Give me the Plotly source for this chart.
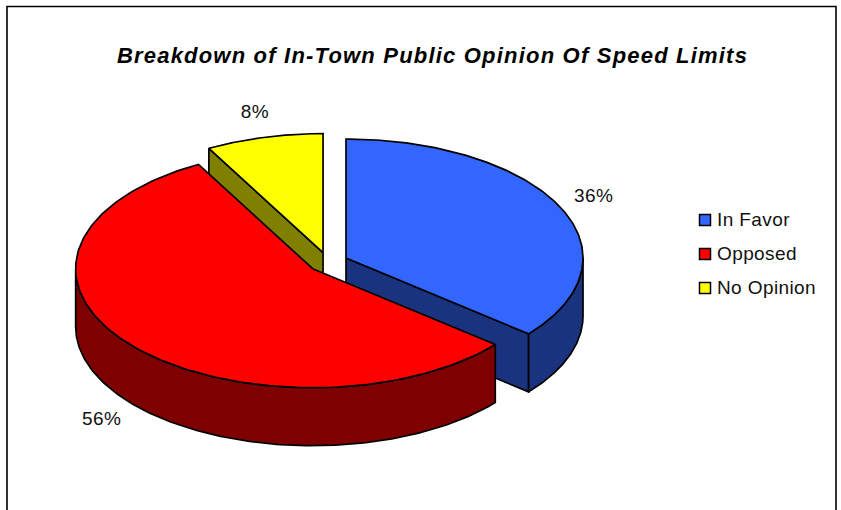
import numpy as np
import plotly.graph_objects as go

categories = ["In Favor", "Opposed", "No Opinion"]
values = [36, 56, 8]
label_text = ["36%", "56%", "8%"]
title_text = "Breakdown of In-Town Public Opinion Of Speed Limits"

top_colors = ["#3366FF", "#FF0000", "#FFFF00"]
side_colors = ["#1A337F", "#7F0000", "#808000"]

# projection of the tilted pie onto the pixel-sized axes
CX, CY, RX, RY, DEPTH, EXPLODE = 328.0, 262.3, 237.0, 119.0, 58.0, 0.084
LINE = 1.7

total = sum(values)
edges = np.cumsum([0] + values) / total * 2 * np.pi
slices = []
for i in range(len(values)):
    a0, a1 = edges[i], edges[i + 1]
    mid = (a0 + a1) / 2
    vx = CX + EXPLODE * RX * np.sin(mid)
    vy = CY - EXPLODE * RY * np.cos(mid)
    slices.append(dict(a0=a0, a1=a1, mid=mid, vx=vx, vy=vy))


def rim(s, a0, a1, drop=0.0):
    t = np.linspace(a0, a1, 160)
    return s["vx"] + RX * np.sin(t), s["vy"] - RY * np.cos(t) + drop


fig = go.Figure()


def poly(x, y, color):
    fig.add_trace(go.Scatter(
        x=list(x), y=list(y), mode="lines", fill="toself", fillcolor=color,
        line=dict(color="black", width=LINE), hoverinfo="skip", showlegend=False))


def top(i):
    s = slices[i]
    x, y = rim(s, s["a0"], s["a1"])
    poly(np.r_[s["vx"], x, s["vx"]], np.r_[s["vy"], y, s["vy"]], top_colors[i])


def cut(i, a):
    s = slices[i]
    ex, ey = rim(s, a, a)
    ex, ey = ex[0], ey[0]
    poly([s["vx"], ex, ex, s["vx"], s["vx"]],
         [s["vy"], ey, ey + DEPTH, s["vy"] + DEPTH, s["vy"]], side_colors[i])


def wall(i, a0, a1):
    s = slices[i]
    x, y = rim(s, a0, a1)
    xb, yb = rim(s, a1, a0, DEPTH)
    poly(np.r_[x, xb, x[0]], np.r_[y, yb, y[0]], side_colors[i])


# painter's order: back to front
cut(2, slices[2]["a0"])
top(2)
cut(0, slices[0]["a1"])
wall(0, np.pi / 2, slices[0]["a1"])
top(0)
wall(1, slices[1]["a0"], 1.5 * np.pi)
top(1)

# percentage labels, placed outward from each slice
lx, ly = [], []
for s in slices:
    lx.append(s["vx"] + 1.155 * RX * np.sin(s["mid"]))
    front = np.cos(s["mid"]) < 0
    ly.append(s["vy"] - 1.22 * RY * np.cos(s["mid"]) + (DEPTH if front else 0) + 1)
fig.add_trace(go.Scatter(
    x=lx, y=ly, mode="text", text=label_text, textposition="middle center",
    textfont=dict(family="Liberation Sans", size=19, color="#111111"),
    hoverinfo="skip", showlegend=False))

# legend
rows = [220 + 34 * i for i in range(3)]
fig.add_trace(go.Scatter(
    x=[705] * 3, y=rows, mode="markers",
    marker=dict(symbol="square", size=11, color=top_colors, line=dict(color="black", width=1.5)),
    hoverinfo="skip", showlegend=False))
fig.add_trace(go.Scatter(
    x=[717] * 3, y=[r + 1 for r in rows], mode="text",
    text=categories, textposition="middle right",
    textfont=dict(family="Liberation Sans", size=19, color="#111111"),
    hoverinfo="skip", showlegend=False))

fig.update_layout(
    width=841, height=510, margin=dict(l=0, r=0, t=0, b=0),
    paper_bgcolor="white", plot_bgcolor="white", showlegend=False,
    xaxis=dict(range=[0, 841], visible=False, fixedrange=True),
    yaxis=dict(range=[510, 0], visible=False, fixedrange=True),
    title=dict(text=title_text, x=432.5 / 841, xanchor="center", y=1 - 55.5 / 510, yanchor="middle",
               font=dict(family="Liberation Sans", size=22, color="black", weight="bold", style="italic")),
    shapes=[dict(type="path", xref="x", yref="y", path="M 7 520 L 7 6.5 L 836 6.5 L 836 520",
                 line=dict(color="black", width=1.6))],
)
spacing_js = """
document.body.style.margin='0';
function applySpacing(){
  document.querySelectorAll('.gtitle').forEach(function(t){t.style.letterSpacing='1.2px';});
  document.querySelectorAll('.textpoint text').forEach(function(t){t.style.letterSpacing='0.4px';});
}
applySpacing(); setTimeout(applySpacing,50);
"""
fig.write_html("out.html", post_script=spacing_js, config={"displayModeBar": False})
